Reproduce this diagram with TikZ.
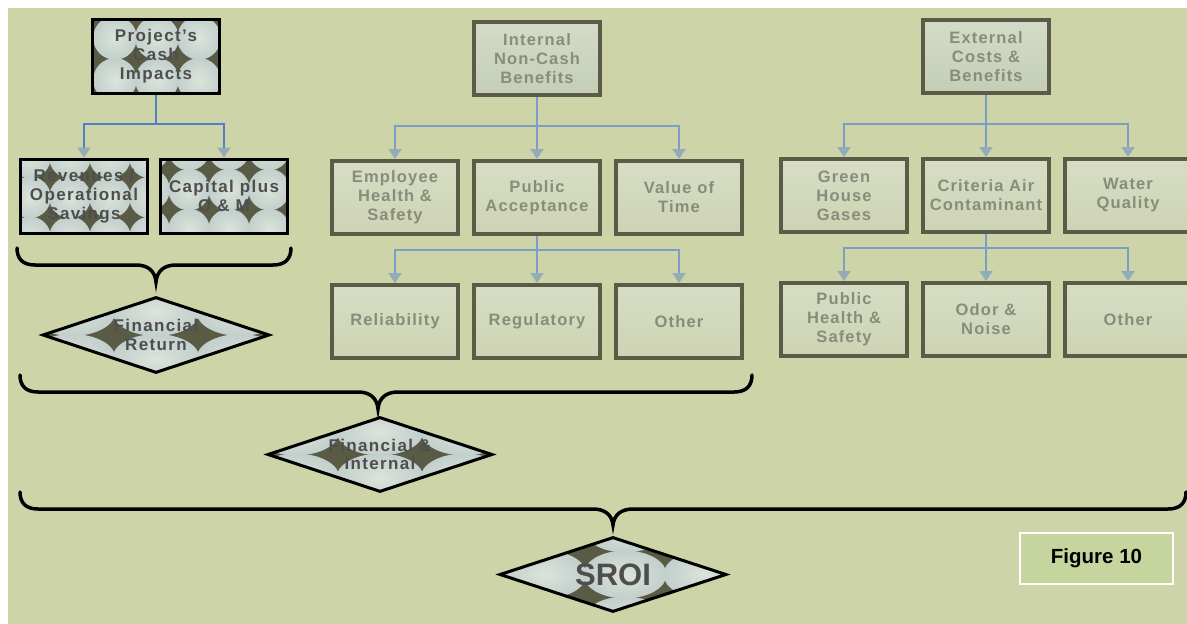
\documentclass[tikz,border=0pt]{standalone}
\usepackage{fontspec}
\setmainfont{Liberation Sans}
\newfontfamily\spacedfont[LetterSpace=7]{Liberation Sans}
\newfontfamily\pattfont[LetterSpace=8]{Liberation Sans}
\usetikzlibrary{arrows.meta,shapes.geometric}
\definecolor{bg}{HTML}{CCD4A8}
\definecolor{gtop}{HTML}{D7DDC3}
\definecolor{gbot}{HTML}{CDD4B4}
\definecolor{htop}{HTML}{D4DBC8}
\definecolor{hbot}{HTML}{C4CEB6}
\definecolor{gborder}{HTML}{5A5C47}
\definecolor{gtext}{HTML}{878D7A}
\definecolor{pdark}{HTML}{5A5B44}
\definecolor{pcin}{HTML}{DCE4DA}
\definecolor{pcout}{HTML}{C2CFCC}
\definecolor{ptext}{HTML}{4E4E4E}
\definecolor{lblue}{HTML}{4E80CE}
\definecolor{mblue}{HTML}{7C9DC4}
\definecolor{tipc}{HTML}{93ACB8}
\definecolor{figfill}{HTML}{C6D59E}
\newcommand\pattfill[4]{%
  \begin{scope}[shift={(path picture bounding box.center)}]
  \foreach \i in {-4,...,4}{\foreach \j in {-3,...,3}{
    \shade[inner color=pcin, outer color=pcout]
      ({(2*\i*#1+#3)*1pt},{(2*\j*#2+#4)*1pt}) ellipse ({#1*1.04pt} and {#2*1.04pt});
  }}
  \end{scope}}
\tikzset{
  graybox/.style={draw=gborder, line width=4pt, top color=gtop, bottom color=gbot,
    text=gtext, font=\spacedfont\bfseries\fontsize{16.5}{19}\selectfont, align=center,
    minimum width=126pt, minimum height=73pt, inner sep=0pt},
  headbox/.style={graybox, top color=htop, bottom color=hbot},
  pattbox/.style={draw=black, line width=3pt, fill=pdark, text=ptext,
    font=\pattfont\bfseries\fontsize{17}{19}\selectfont, align=center,
    minimum width=127pt, minimum height=74pt, inner sep=0pt,
    path picture={\pattfill{21}{21}{0}{0}}},
  pattdia/.style={shape=diamond, aspect=3, draw=black, line width=3pt, fill=pdark, text=ptext,
    font=\pattfont\bfseries\fontsize{17}{18.5}\selectfont, align=center,
    minimum width=225pt, minimum height=75pt, inner sep=0pt,
    path picture={\pattfill{42}{23.5}{0}{23.5}}},
  lconn/.style={draw=lblue, line width=2.5pt},
  mconn/.style={draw=mblue, line width=2pt},
  tip/.style={-{Triangle[width=13pt,length=10pt,color=tipc]}},
  brace/.style={draw=black, line width=3.5pt, line cap=round}
}
\begin{document}
\begin{tikzpicture}[x=1pt,y=-1pt]
\useasboundingbox (0,0) rectangle (1187,624);
\fill[white] (0,0) rectangle (1187,624);
\fill[bg] (8,8) rectangle (1187,624);

% left group
\node[pattbox] (proj) at (156,56.5) {Project’s\\Cash\\Impacts};
\node[pattbox, path picture={\pattfill{20}{20}{0}{-18}}] (rev) at (84,196) {Revenues /\\Operational\\Savings};
\node[pattbox, path picture={\pattfill{20}{20}{20}{-18}}] (cap) at (224,196) {Capital plus\\O \& M};
\coordinate (f1) at (156,124);
\draw[lconn] (proj.south) -- (f1);
\draw[lconn,tip] (f1) -| (rev.north);
\draw[lconn,tip] (f1) -| (cap.north);

% middle group
\node[headbox] (incb) at (537,58.5) {Internal\\Non-Cash\\Benefits};
\node[graybox] (emp) at (395,197.5) {Employee\\Health \&\\Safety};
\node[graybox] (pub) at (537,197.5) {Public\\Acceptance};
\node[graybox] (vot) at (679,197.5) {Value of\\Time};
\node[graybox] (rel) at (395,321.5) {Reliability};
\node[graybox] (reg) at (537,321.5) {Regulatory};
\node[graybox] (oth1) at (679,321.5) {Other};
\coordinate (f2) at (537,126);
\coordinate (f3) at (537,250);
\draw[mconn,tip] (incb.south) -- (pub.north);
\draw[mconn,tip] (f2) -| (emp.north);
\draw[mconn,tip] (f2) -| (vot.north);
\draw[mconn,tip] (pub.south) -- (reg.north);
\draw[mconn,tip] (f3) -| (rel.north);
\draw[mconn,tip] (f3) -| (oth1.north);

% right group
\node[headbox] (ext) at (986,56.5) {External\\Costs \&\\Benefits};
\node[graybox] (ghg) at (844,195.5) {Green\\House\\Gases};
\node[graybox] (cac) at (986,195.5) {Criteria Air\\Contaminant};
\node[graybox] (wq) at (1128,195.5) {Water\\Quality};
\node[graybox] (phs) at (844,319.5) {Public\\Health \&\\Safety};
\node[graybox] (odor) at (986,319.5) {Odor \&\\Noise};
\node[graybox] (oth2) at (1128,319.5) {Other};
\coordinate (f4) at (986,124);
\coordinate (f5) at (986,248);
\draw[mconn,tip] (ext.south) -- (cac.north);
\draw[mconn,tip] (f4) -| (ghg.north);
\draw[mconn,tip] (f4) -| (wq.north);
\draw[mconn,tip] (cac.south) -- (odor.north);
\draw[mconn,tip] (f5) -| (phs.north);
\draw[mconn,tip] (f5) -| (oth2.north);

% braces
\draw[brace] (17,248) .. controls (17,259) and (23,265) .. (35,265) -- (136,265)
  .. controls (148,265) and (155,271) .. (156,282)
  .. controls (157,271) and (164,265) .. (176,265) -- (273,265)
  .. controls (285,265) and (291,259) .. (291,248);
\draw[brace] (20,375) .. controls (20,386) and (26,392) .. (38,392) -- (358,392)
  .. controls (370,392) and (377,398) .. (378,409)
  .. controls (379,398) and (386,392) .. (398,392) -- (734,392)
  .. controls (746,392) and (752,386) .. (752,375);
\draw[brace] (20,492) .. controls (20,503) and (26,509) .. (38,509) -- (593,509)
  .. controls (605,509) and (612,515) .. (613,525)
  .. controls (614,515) and (621,509) .. (633,509) -- (1168,509)
  .. controls (1180,509) and (1186,503) .. (1186,492);

% diamonds
\node[pattdia, minimum width=227pt, minimum height=76pt] (fr) at (156,335) {Financial\\Return};
\node[pattdia] (fi) at (380,454.5) {Financial \&\\Internal};
\node[pattdia, minimum width=227pt, font=\bfseries\fontsize{31}{34}\selectfont,
  path picture={\pattfill{40}{23}{12}{0}}] (sroi) at (613,574.5) {SROI};

% figure label
\node[draw=white, line width=2pt, fill=figfill, minimum width=153pt, minimum height=51pt,
  inner sep=0pt, font=\bfseries\fontsize{20.5}{24}\selectfont] (fig) at (1096.5,558.5) {Figure 10};
\end{tikzpicture}
\end{document}
